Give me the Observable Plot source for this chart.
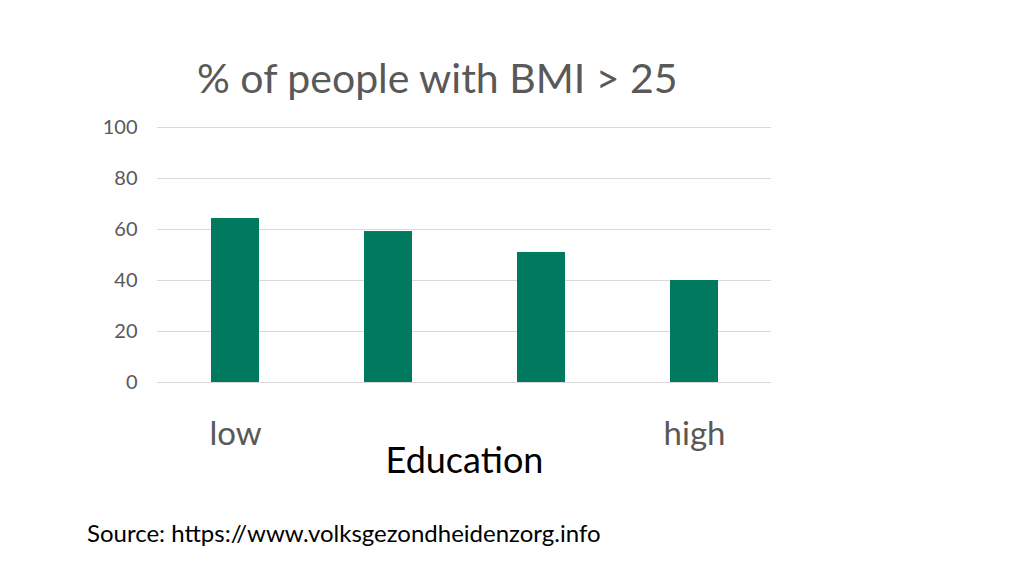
<!DOCTYPE html>
<html><head><meta charset="utf-8">
<script src="https://cdn.jsdelivr.net/npm/d3@7"></script>
<script src="https://cdn.jsdelivr.net/npm/@observablehq/plot@0.6"></script>
<style>
body{margin:0;background:#fff;font-family:Lato,sans-serif;}
#wrap{position:relative;width:1024px;height:576px;overflow:hidden;}
#chart{position:absolute;left:0;top:0;}
#title{position:absolute;left:197px;top:57px;font-size:41px;line-height:1;color:#595959;white-space:nowrap;}
#source{position:absolute;left:87px;top:521px;font-size:24px;line-height:1;color:#000;white-space:nowrap;}
</style></head>
<body>
<div id="wrap">
<div id="chart"></div>
<div id="title">% of people with BMI &gt; 25</div>
<div id="source">Source: https://www.volksgezondheidenzorg.info</div>
</div>
<script>
const categories = ["low", "lower-middle", "upper-middle", "high"];
const xTickLabels = ["low", "", "", "high"];
const values = [64.3, 59.2, 51.0, 40.0];
const yTicks = [0, 20, 40, 60, 80, 100];
const xLabel = "Education";

const data = categories.map((c, i) => ({cat: c, value: values[i]}));

const chart = Plot.plot({
  width: 1024,
  height: 576,
  marginLeft: 157,
  marginRight: 253,
  marginTop: 127,
  marginBottom: 194,
  style: {fontFamily: "Lato, sans-serif", background: "transparent", overflow: "visible"},
  x: {domain: categories, paddingInner: 0.687, paddingOuter: 0.3435, align: 0.5},
  y: {domain: [0, 100]},
  marks: [
    Plot.gridY(yTicks, {stroke: "#d9d9d9", strokeOpacity: 1, strokeWidth: 1}),
    Plot.barY(data, {x: "cat", y: "value", fill: "#007a5e"}),
    Plot.axisY(yTicks, {tickSize: 0, tickPadding: 20, fontSize: 20, fill: "#595959", label: null}),
    Plot.axisX({tickSize: 0, tickPadding: 39, fontSize: 33, fill: "#595959",
      tickFormat: d => xTickLabels[categories.indexOf(d)], label: null}),
    Plot.text([xLabel], {frameAnchor: "bottom", lineAnchor: "middle", dy: 79, fontSize: 36, fill: "#000", text: d => d})
  ]
});
document.getElementById("chart").appendChild(chart);
</script>
</body></html>
